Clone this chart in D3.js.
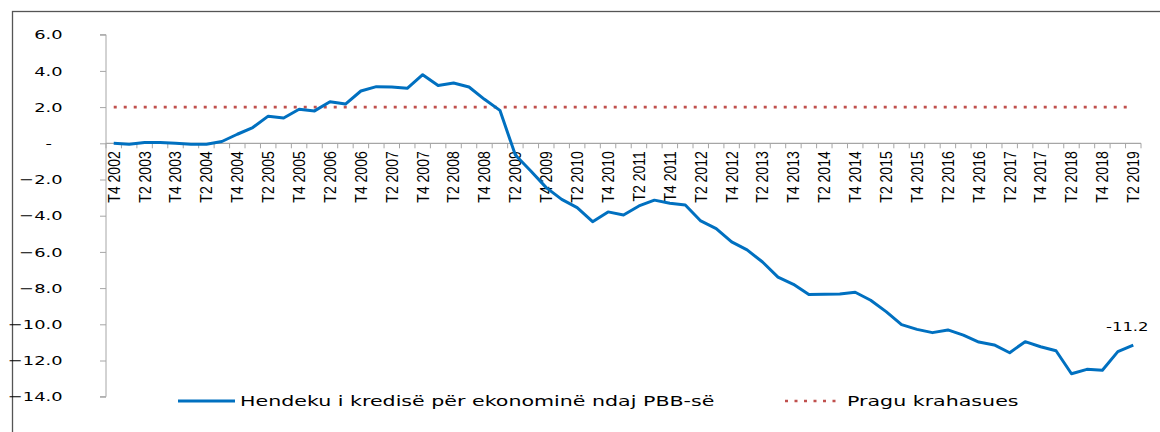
<!DOCTYPE html>
<html lang="en">
<head>
<meta charset="UTF-8">
<title>Hendeku i kredisë</title>
<style>
  body { margin: 0; background: #fff; overflow: hidden; }
  svg { display: block; }
  .lbl { font-family: "DejaVu Sans", Verdana, sans-serif; fill: #000; }
  .xlbl { font-family: "Liberation Sans", Arial, sans-serif; font-size: 14px; fill: #000; }
</style>
</head>
<body>
<svg id="chart" width="1160" height="432"></svg>
<script src="https://cdn.jsdelivr.net/npm/d3@7"></script>
<script>
// quarters T4 2002 .. T2 2019
const quarters = [];
quarters.push("T4 2002");
for (let y = 2003; y <= 2019; y++) {
  for (let q = 1; q <= 4; q++) {
    if (y === 2019 && q > 2) break;
    quarters.push("T" + q + " " + y);
  }
}

// credit gap (% of GDP)
const creditGap = [
  0.0, -0.05, 0.05, 0.05, 0.0, -0.05, -0.05, 0.1, 0.5, 0.87,
  1.5, 1.4, 1.88, 1.79, 2.3, 2.17, 2.89, 3.13, 3.11, 3.04,
  3.79, 3.19, 3.33, 3.11, 2.43, 1.82, -0.65, -1.53, -2.45, -3.1,
  -3.55, -4.33, -3.79, -3.96, -3.46, -3.14, -3.31, -3.41, -4.29, -4.71,
  -5.45, -5.89, -6.56, -7.39, -7.79, -8.36, -8.34, -8.32, -8.23, -8.67,
  -9.3, -10.02, -10.28, -10.46, -10.31, -10.6, -10.98, -11.14, -11.57, -10.96,
  -11.24, -11.46, -12.73, -12.49, -12.54, -11.51, -11.15
];
const threshold = 2.0;
const lastLabel = "-11.2";
const yTicks = [6, 4, 2, 0, -2, -4, -6, -8, -10, -12, -14];
const seriesNames = ["Hendeku i kredisë për ekonominë ndaj PBB-së", "Pragu krahasues"];

const svg = d3.select("#chart");
const SX = 1.37; // horizontal stretch of the original picture

// outer frame
svg.append("rect")
  .attr("x", 12.5).attr("y", 11.5)
  .attr("width", 1300).attr("height", 600)
  .attr("fill", "none").attr("stroke", "#555").attr("stroke-width", 1.3);

const x = d3.scaleBand().domain(quarters).range([106, 1141]).padding(0);
const cx = d => x(d) + x.bandwidth() / 2;
const y = d3.scaleLinear().domain([-14, 6]).range([396.7, 34.7]);

function stretchedText(g, tx, ty, str, size, anchor, sx = SX) {
  return g.append("text")
    .attr("class", "lbl")
    .attr("transform", `translate(${tx},${ty}) scale(${sx},1)`)
    .attr("text-anchor", anchor)
    .attr("font-size", size)
    .text(str);
}

// y axis
const yAxis = svg.append("g").attr("transform", "translate(106,0)")
  .call(d3.axisLeft(y).tickValues(yTicks).tickSize(6).tickFormat(""));
yAxis.select(".domain").attr("stroke", "#a6a6a6").attr("d", `M-6,${y(-14)}H0V${y(6)}H-6`);
yAxis.selectAll(".tick line").attr("stroke", "#a6a6a6");

const yl = svg.append("g");
yTicks.forEach(v => {
  const s = v === 0 ? "-" : d3.format(".1f")(v);
  stretchedText(yl, v === 0 ? 52 : 62.5, y(v) + 4.6, s, 13, "end");
});

// x axis
const xa = svg.append("g");
xa.append("line")
  .attr("x1", 106).attr("x2", 1141)
  .attr("y1", y(0)).attr("y2", y(0))
  .attr("stroke", "#a6a6a6").attr("stroke-width", 1.3);
const bounds = quarters.map(q => x(q)).concat([x(quarters[quarters.length - 1]) + x.bandwidth()]);
xa.selectAll("line.tk").data(bounds).join("line")
  .attr("class", "tk")
  .attr("x1", d => d).attr("x2", d => d)
  .attr("y1", y(0)).attr("y2", y(0) + 5)
  .attr("stroke", "#a6a6a6");

xa.selectAll("text").data(quarters.filter((q, i) => i % 2 === 0)).join("text")
  .attr("class", "xlbl")
  .attr("text-anchor", "end")
  .attr("transform", d => `translate(${cx(d) + 5.9},${y(0) + 8}) scale(1.17,1) rotate(-90)`)
  .text(d => d);

// threshold line
svg.append("line")
  .attr("x1", cx(quarters[0])).attr("x2", cx(quarters[quarters.length - 1]))
  .attr("y1", y(threshold)).attr("y2", y(threshold))
  .attr("stroke", "#c0504d").attr("stroke-width", 2.6)
  .attr("stroke-dasharray", "3 7");

// credit gap line
const line = d3.line().x((d, i) => cx(quarters[i])).y(d => y(d));
svg.append("path")
  .datum(creditGap)
  .attr("fill", "none")
  .attr("stroke", "#0070c0")
  .attr("stroke-width", 3)
  .attr("stroke-linejoin", "round")
  .attr("d", line);

// label of last value
const li = creditGap.length - 1;
stretchedText(svg, cx(quarters[li]) - 6, y(creditGap[li]) - 14, lastLabel, 12, "middle");

// legend
const lg = svg.append("g");
lg.append("line").attr("x1", 178).attr("x2", 235).attr("y1", 401).attr("y2", 401)
  .attr("stroke", "#0070c0").attr("stroke-width", 3);
stretchedText(lg, 240, 405.5, seriesNames[0], 14, "start", 1.47);
lg.append("line").attr("x1", 785).attr("x2", 840).attr("y1", 401).attr("y2", 401)
  .attr("stroke", "#c0504d").attr("stroke-width", 2.6).attr("stroke-dasharray", "3 6.5");
stretchedText(lg, 847, 405.5, seriesNames[1], 14, "start", 1.47);
</script>
</body>
</html>
